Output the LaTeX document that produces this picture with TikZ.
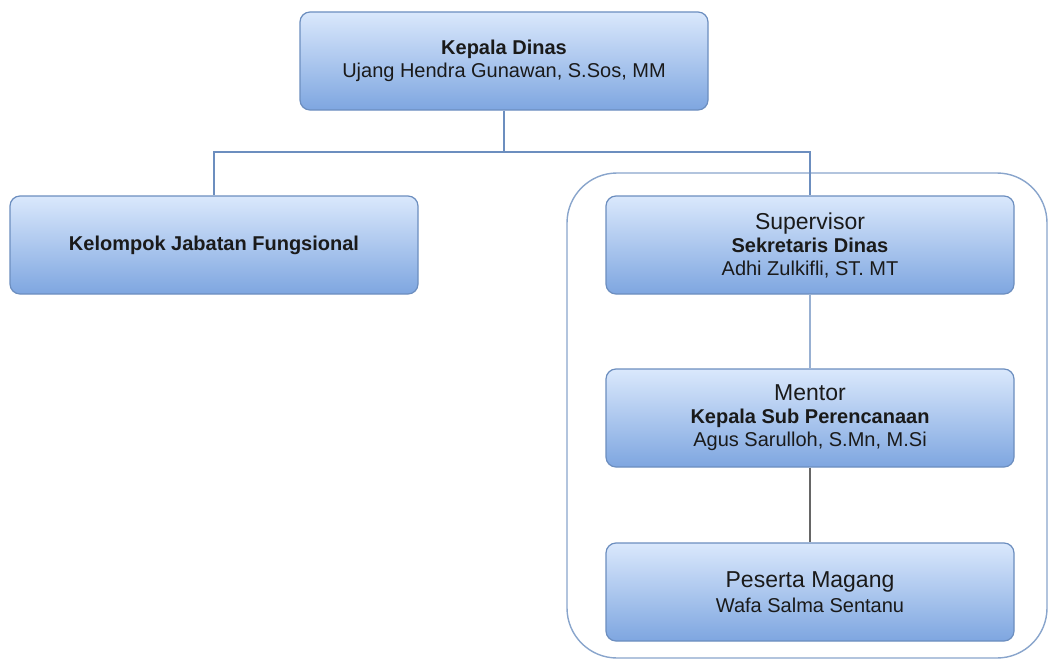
\documentclass[tikz,border=0pt]{standalone}
\usepackage{fontspec}
\setmainfont{Liberation Sans}
\usetikzlibrary{positioning}
\definecolor{boxtop}{HTML}{DAE8FC}
\definecolor{boxbot}{HTML}{7EA6E0}
\definecolor{boxline}{HTML}{6C8EBF}
\definecolor{txt}{HTML}{1A1A1A}
\tikzset{
x=1pt, y=-1pt,
unit/.style={draw=boxline, line width=1.2pt, rounded corners=10pt, top color=boxtop, bottom color=boxbot,
  minimum width=408pt, minimum height=98pt, align=center, text=txt,
  font=\fontsize{20}{23}\selectfont}, % every box of the chart
link/.style={draw=boxline, line width=1.4pt}, % lines from the head
group/.style={draw=boxline!80, line width=1.4pt, rounded corners=50pt, fill=white}, % frame round the intern line
}
\newcommand{\titleline}[1]{{\fontsize{23}{27}\selectfont #1}}

\begin{document}
\begin{tikzpicture}
\useasboundingbox (0,0) rectangle (1049,661);

\draw[group] (567,173) rectangle (1047,658);

\node[unit] at (504,61) (kd) {\textbf{Kepala Dinas}\\Ujang Hendra Gunawan, S.Sos, MM};
\node[unit] at (214,245) (kjf) {\textbf{Kelompok Jabatan Fungsional}};
\node[unit] at (810,245) (sup) {\titleline{Supervisor}\\\textbf{Sekretaris Dinas}\\Adhi Zulkifli, ST. MT};
\node[unit] at (810,418) (men) {\titleline{Mentor}\\\textbf{Kepala Sub Perencanaan}\\Agus Sarulloh, S.Mn, M.Si};
\node[unit] at (810,592) (pm) {\titleline{Peserta Magang}\\[2pt]Wafa Salma Sentanu};

\coordinate (bus) at (504,152);
\draw[link] (kd.south) -- (bus) -| (kjf.north);
\draw[link] (bus) -| (sup.north);
\draw[link, draw=boxline!70] (sup.south) -- (men.north);
\draw[line width=2pt, draw=black!60] (men.south) -- (pm.north);

\end{tikzpicture}
\end{document}
